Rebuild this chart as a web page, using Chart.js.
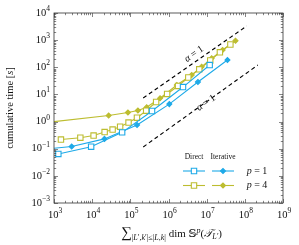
<!DOCTYPE html>
<html>
<head>
<meta charset="utf-8">
<script src="https://cdn.jsdelivr.net/npm/chart.js@4.4.0/dist/chart.umd.min.js"></script>
<style>
  html, body { margin: 0; padding: 0; background: #fff; }
  #wrap { width: 299px; height: 245px; }
</style>
</head>
<body>
<div id="wrap"><canvas id="timingCanvas" width="299" height="245"></canvas></div>
<script>
// cumulative time [s] vs. cumulative dimension
const directP1X = [1.3e3, 9.4e3, 6.1e4, 3.7e5, 2.4e6, 1.2e7];
const directP1Y = [0.064, 0.119, 0.40, 2.45, 18.7, 121];

const iterP1X = [5e2, 2.9e3, 2.1e4, 1.5e5, 1.05e6, 5.9e6, 3.5e7];
const iterP1Y = [0.094, 0.12, 0.23, 0.75, 4.4, 28.7, 185];

const directP4X = [1.52e3, 4.9e3, 1.09e4, 2.12e4, 3.43e4, 5.4e4, 8.97e4, 1.49e5, 2.6e5, 4.74e5,
                   9.2e5, 1.78e6, 3.3e6, 6.4e6, 1.24e7, 2.22e7, 4.18e7];
const directP4Y = [0.218, 0.254, 0.306, 0.412, 0.509, 0.646, 0.922, 1.39, 2.51, 5.26,
                   10.4, 20.5, 42, 84, 178, 357, 691];

const iterP4X = [5e2, 2.7e4, 8.65e4, 1.58e5, 2.68e5, 6.0e5, 1.65e6, 4.06e6, 7.4e6, 1.35e7, 2.62e7, 5.7e7];
const iterP4Y = [0.89, 1.67, 2.16, 2.56, 3.35, 7.2, 22.2, 52, 105, 214, 433, 953];

// reference slopes alpha = 1
const slopeUpperX = [2.17e5, 1.12e8];
const slopeUpperY = [7.4, 3300];
const slopeLowerX = [2.18e5, 2.19e8];
const slopeLowerY = [0.116, 121];
const slopeLabelX = [4.66e6, 9.6e6];
const slopeLabelY = [308, 4.83];

const xTickExps = [3, 4, 5, 6, 7, 8, 9];
const yTickExps = [-3, -2, -1, 0, 1, 2, 3, 4];
const legendRows = ['1', '4'];

const BLUE = '#1eaae8';
const OLIVE = '#bdbd30';
const SERIF = '"Liberation Serif", "DejaVu Serif", serif';

function toPoints(xs, ys) {
    return xs.map((x, i) => ({ x: x, y: ys[i] }));
}

function setFont(ctx, size, italic) {
    ctx.font = (italic ? 'italic ' : '') + size + 'px ' + SERIF;
}

// runs: [text, size, italic, dy]
function drawRuns(ctx, runs, x, y, align) {
    let total = 0;
    runs.forEach(r => { setFont(ctx, r[1], r[2]); total += ctx.measureText(r[0]).width; });
    let cx = align === 'right' ? x - total : (align === 'center' ? x - total / 2 : x);
    ctx.textAlign = 'left';
    runs.forEach(r => {
        setFont(ctx, r[1], r[2]);
        ctx.fillText(r[0], cx, y + (r[3] || 0));
        cx += ctx.measureText(r[0]).width;
    });
}

function lineSet(label, xs, ys, color, style, radius, filled) {
    return {
        label: label,
        data: toPoints(xs, ys),
        borderColor: color,
        backgroundColor: filled ? color : '#fff',
        borderWidth: 1.1,
        pointStyle: style,
        pointRadius: radius,
        pointBorderWidth: 1.1,
        pointBackgroundColor: filled ? color : '#fff',
        pointBorderColor: color,
        fill: false,
        tension: 0
    };
}

function dashSet(label, xs, ys) {
    return {
        label: label,
        data: toPoints(xs, ys),
        borderColor: '#000',
        borderWidth: 1.1,
        borderDash: [4, 3],
        pointRadius: 0,
        fill: false
    };
}

const decorations = {
    id: 'decorations',
    afterDraw(chart) {
        const ctx = chart.ctx;
        const a = chart.chartArea;
        const xs = chart.scales.x, ys = chart.scales.y;
        ctx.save();

        // frame
        ctx.strokeStyle = '#333';
        ctx.lineWidth = 0.8;
        ctx.strokeRect(a.left, a.top, a.right - a.left, a.bottom - a.top);

        // inward ticks on all four sides
        ctx.lineWidth = 0.6;
        ctx.beginPath();
        for (let e = xTickExps[0]; e <= xTickExps[xTickExps.length - 1]; e++) {
            for (let k = 1; k <= 9; k++) {
                const v = k * Math.pow(10, e);
                if (v > xs.max * 1.0001) break;
                const px = Math.round(xs.getPixelForValue(v)) + 0.5;
                const len = k === 1 ? 4 : 2.2;
                ctx.moveTo(px, a.bottom); ctx.lineTo(px, a.bottom - len);
                ctx.moveTo(px, a.top); ctx.lineTo(px, a.top + len);
            }
        }
        for (let e = yTickExps[0]; e <= yTickExps[yTickExps.length - 1]; e++) {
            for (let k = 1; k <= 9; k++) {
                const v = k * Math.pow(10, e);
                if (v > ys.max * 1.0001) break;
                const py = Math.round(ys.getPixelForValue(v)) + 0.5;
                const len = k === 1 ? 4 : 2.2;
                ctx.moveTo(a.left, py); ctx.lineTo(a.left + len, py);
                ctx.moveTo(a.right, py); ctx.lineTo(a.right - len, py);
            }
        }
        ctx.stroke();

        // tick labels
        ctx.fillStyle = '#111';
        ctx.textBaseline = 'middle';
        yTickExps.forEach(e => {
            const py = ys.getPixelForValue(Math.pow(10, e));
            drawRuns(ctx, [['10', 10.5, false, 0], [String(e).replace('-', '\u2212'), 7.5, false, -4]], a.left - 4, py, 'right');
        });
        xTickExps.forEach(e => {
            const px = xs.getPixelForValue(Math.pow(10, e));
            drawRuns(ctx, [['10', 10.5, false, 0], [String(e), 7.5, false, -4]], px + 1, a.bottom + 12, 'center');
        });

        // axis titles
        ctx.textBaseline = 'alphabetic';
        drawRuns(ctx, [
            ['\u2211', 15, false, 0],
            ['|', 8, false, 3], ['L', 8, true, 3], ['\u2032,', 8, false, 3], ['k', 8, true, 3],
            ['\u2032|\u2264|', 8, false, 3], ['L', 8, true, 3], [',', 8, false, 3], ['k', 8, true, 3], ['|', 8, false, 3],
            [' dim ', 11, false, 0], ['\uD835\uDD4A', 11, false, 0], ['p', 8, true, -4.5],
            ['(', 11, false, 0], ['\uD835\uDCAF', 11, true, 0], ['L\u2032', 8, true, 2], [')', 11, false, 0]
        ], (a.left + a.right) / 2 + 3, 237, 'center');

        ctx.save();
        ctx.translate(10, (a.top + a.bottom) / 2);
        ctx.rotate(-Math.PI / 2);
        ctx.textBaseline = 'middle';
        drawRuns(ctx, [['cumulative time [', 10.5, false, 0], ['s', 10.5, true, 0], [']', 10.5, false, 0]], 0, 0, 'center');
        ctx.restore();

        // slope labels along the dashed lines
        const ang = Math.atan2(
            ys.getPixelForValue(slopeUpperY[1]) - ys.getPixelForValue(slopeUpperY[0]),
            xs.getPixelForValue(slopeUpperX[1]) - xs.getPixelForValue(slopeUpperX[0]));
        slopeLabelX.forEach((lx, i) => {
            ctx.save();
            ctx.translate(xs.getPixelForValue(lx), ys.getPixelForValue(slopeLabelY[i]));
            ctx.rotate(ang);
            ctx.fillStyle = '#111';
            ctx.textBaseline = 'middle';
            drawRuns(ctx, [['\u03B1', 10, true, 0], [' = 1', 10, false, 0]], 0, 0, 'center');
            ctx.restore();
        });

        // legend table
        const colDirect = a.right - 89, colIter = a.right - 60, colText = a.right - 26;
        const rowHead = a.bottom - 46;
        ctx.fillStyle = '#111';
        ctx.textBaseline = 'middle';
        drawRuns(ctx, [['Direct', 7.5, false, 0]], colDirect, rowHead, 'center');
        drawRuns(ctx, [['Iterative', 7.5, false, 0]], colIter, rowHead, 'center');
        legendRows.forEach((p, r) => {
            const py = a.bottom - 32 + r * 14.5;
            const dsDirect = chart.data.datasets[r * 2];
            const dsIter = chart.data.datasets[r * 2 + 1];
            [[dsDirect, colDirect], [dsIter, colIter]].forEach(pair => {
                const ds = pair[0], cx = pair[1];
                ctx.strokeStyle = ds.borderColor;
                ctx.lineWidth = 1.1;
                ctx.beginPath();
                ctx.moveTo(cx - 11, py); ctx.lineTo(cx + 11, py);
                ctx.stroke();
                ctx.fillStyle = ds.pointBackgroundColor;
                Chart.helpers.drawPoint(ctx, {
                    pointStyle: ds.pointStyle, radius: ds.pointRadius, rotation: 0, borderWidth: 1.1
                }, cx, py);
            });
            ctx.fillStyle = '#111';
            drawRuns(ctx, [['p', 10, true, 0], [' = ' + p, 10, false, 0]], colText, py, 'center');
        });

        ctx.restore();
    }
};

new Chart(document.getElementById('timingCanvas').getContext('2d'), {
    type: 'line',
    data: {
        datasets: [
            lineSet('Direct p=1', directP1X, directP1Y, BLUE, 'rect', 3.8, false),
            lineSet('Iterative p=1', iterP1X, iterP1Y, BLUE, 'rectRot', 2.5, true),
            lineSet('Direct p=4', directP4X, directP4Y, OLIVE, 'rect', 3.8, false),
            lineSet('Iterative p=4', iterP4X, iterP4Y, OLIVE, 'rectRot', 2.5, true),
            dashSet('alpha=1 upper', slopeUpperX, slopeUpperY),
            dashSet('alpha=1 lower', slopeLowerX, slopeLowerY)
        ]
    },
    options: {
        responsive: false,
        animation: false,
        devicePixelRatio: 1,
        layout: { padding: { left: 54, right: 16, top: 13, bottom: 42 } },
        scales: {
            x: { type: 'logarithmic', min: 1e3, max: 1e9, display: false },
            y: { type: 'logarithmic', min: 1e-3, max: 1e4, display: false }
        },
        plugins: { legend: { display: false }, tooltip: { enabled: false } }
    },
    plugins: [decorations]
});
</script>
</body>
</html>
